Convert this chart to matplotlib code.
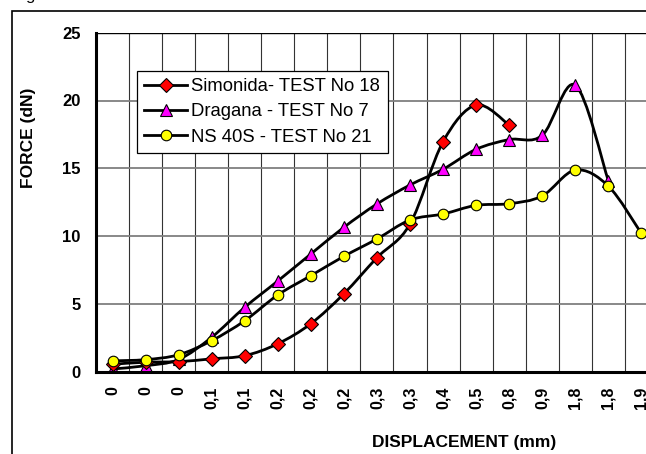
import numpy as np
import matplotlib
matplotlib.use('Agg')
import matplotlib.pyplot as plt
from matplotlib.path import Path
from matplotlib.patches import PathPatch, Rectangle
from matplotlib.lines import Line2D

plt.rcParams['font.family'] = ['Liberation Sans', 'DejaVu Sans']

displacement = ['0', '0', '0', '0,1', '0,1', '0,2', '0,2', '0,2', '0,3', '0,3',
                '0,4', '0,5', '0,8', '0,9', '1,8', '1,8', '1,9']
simonida = [0.55, 0.7, 0.74, 0.95, 1.18, 2.06, 3.54, 5.75, 8.41, 10.89,
            16.96, 19.67, 18.19]
dragana = [0.2, 0.44, 0.9, 2.54, 4.75, 6.69, 8.68, 10.65, 12.37, 13.77,
           14.93, 16.4, 17.12, 17.43, 21.14, 14.09]
ns40s = [0.8, 0.89, 1.25, 2.29, 3.76, 5.66, 7.08, 8.51, 9.79, 11.19,
         11.63, 12.27, 12.39, 12.96, 14.87, 13.69, 10.2]

series = [
    ('Simonida- TEST No 18', simonida, 'D', '#ff0000', 6.9, 3),
    ('Dragana - TEST No 7', dragana, '^', '#ff00ff', 8.6, 2),
    ('NS 40S - TEST No 21', ns40s, 'o', '#ffff00', 7.6, 4),
]


def smooth_path(xs, ys):
    # bezier segments like excel "smoothed line"
    pts = np.column_stack([xs, ys]).astype(float)
    n = len(pts)
    verts = [pts[0]]
    codes = [Path.MOVETO]
    for i in range(n - 1):
        p0 = pts[i - 1] if i > 0 else pts[i]
        p1 = pts[i]
        p2 = pts[i + 1]
        p3 = pts[i + 2] if i + 2 < n else pts[i + 1]
        c1 = p1 + (p2 - p0) / 6.0
        c2 = p2 - (p3 - p1) / 6.0
        verts += [c1, c2, p2]
        codes += [Path.CURVE4] * 3
    return Path(verts, codes)


W, H = 646, 454
fig = plt.figure(figsize=(W / 100, H / 100), dpi=100)
ax = fig.add_axes([96 / W, 1 - 371.7 / H, (657.9 - 96) / W, (371.7 - 32.7) / H])

# outer chart border
fig.patches.append(Rectangle((12.3 / W, -0.5), 2, 1.5 - 10.7 / H, transform=fig.transFigure,
                             fill=False, edgecolor='black', lw=1.2))

for label, vals, mk, col, ms, z in series:
    x = np.arange(len(vals))
    ax.add_patch(PathPatch(smooth_path(x, vals), facecolor='none', edgecolor='black',
                           lw=2.0, zorder=z, capstyle='round', joinstyle='round'))
    ax.plot(x, vals, linestyle='none', marker=mk, ms=ms, mfc=col, mec='black',
            mew=0.8, zorder=z + 0.5)

ax.set_xlim(-0.5, len(displacement) - 0.5)
ax.set_ylim(0, 25)
ax.set_xticks(np.arange(len(displacement)))
ax.set_xticklabels(displacement, rotation=90, fontweight='bold', fontsize=11.5)
ax.set_xticks(np.arange(len(displacement) + 1) - 0.5, minor=True)
ax.set_yticks(np.arange(0, 26, 5))
ax.set_yticklabels([str(v) for v in range(0, 26, 5)], fontweight='bold', fontsize=12)
ax.tick_params(axis='both', which='both', length=0)
ax.tick_params(axis='x', pad=10.5)
ax.tick_params(axis='y', pad=11)

ax.grid(True, axis='x', which='minor', color='#333333', lw=0.8)
ax.grid(True, axis='y', which='major', color='#7f7f7f', lw=1.3)
ax.axhline(25, color='black', lw=1.0, zorder=1)
ax.set_axisbelow(True)

for s in ['top', 'right']:
    ax.spines[s].set_visible(False)
for s in ['left', 'bottom']:
    ax.spines[s].set_linewidth(2.2)
    ax.spines[s].set_zorder(5)

handles = [Line2D([], [], color='black', lw=2.0, marker=mk, ms=ms, mfc=col, mec='black', mew=0.8)
           for label, vals, mk, col, ms, z in series]
leg = ax.legend(handles, [s[0] for s in series], loc='upper left',
                bbox_to_anchor=(137 / W, 1 - 70.7 / H), bbox_transform=fig.transFigure,
                fontsize=13.3, frameon=True, fancybox=False, framealpha=1,
                edgecolor='black', borderpad=0.4, labelspacing=0.45,
                handlelength=2.3, handletextpad=0.25, borderaxespad=0)
leg.get_frame().set_linewidth(0.9)

fig.text(28 / W, 1 - 138 / H, 'FORCE (dN)', rotation=90, ha='center', va='center',
         fontweight='bold', fontsize=12.5)
fig.text(464.6 / W, 1 - 442 / H, 'DISPLACEMENT (mm)', ha='center', va='center',
         fontweight='bold', fontsize=12.5)
fig.text(30 / W, 1 + 4 / H, 'g', ha='center', va='center', fontsize=12)

fig.savefig('out.png', dpi=100)
